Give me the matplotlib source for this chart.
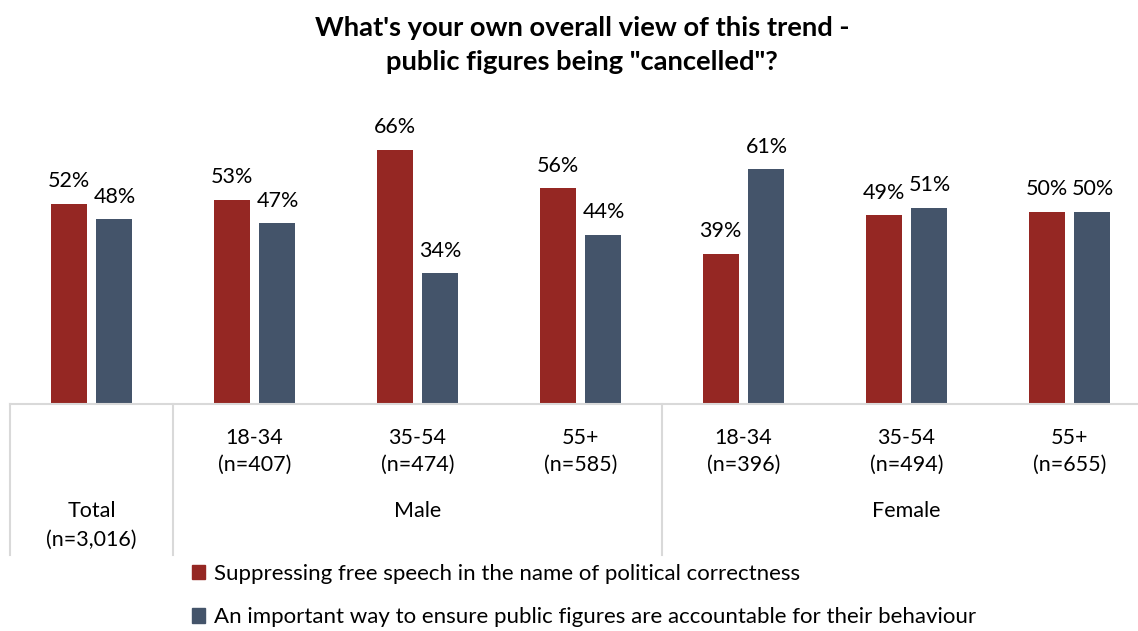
import matplotlib
matplotlib.use("Agg")
from matplotlib import pyplot as plt
from matplotlib.patches import Patch

plt.rcParams['font.family'] = ['Lato', 'DejaVu Sans']

# data
groups = ["Total", "Male", "Male", "Male", "Female", "Female", "Female"]
ages = ["", "18-34", "35-54", "55+", "18-34", "35-54", "55+"]
sizes = ["(n=3,016)", "(n=407)", "(n=474)", "(n=585)", "(n=396)", "(n=494)", "(n=655)"]
suppressing = [52, 53, 66, 56, 39, 49, 50]
accountable = [48, 47, 34, 44, 61, 51, 50]
series_names = ["Suppressing free speech in the name of political correctness",
                "An important way to ensure public figures are accountable for their behaviour"]
red = "#952723"
blue = "#44546a"
grid_c = "#d9d9d9"
fs = 15.5

W, H = 1138, 631
fig = plt.figure(figsize=(W / 100, H / 100), dpi=100)

# axes in pixel terms: left 10, baseline 404, top 100
ax_l, ax_b, ax_t = 10, 404, 100
ax = fig.add_axes([ax_l / W, 1 - ax_b / H, (W - ax_l) / W, (ax_b - ax_t) / H])
ax_h = ax_b - ax_t

def ay(py):
    # pixel row -> axes fraction
    return (ax_b - py) / ax_h

x = list(range(len(suppressing)))
off, bw = 0.141, 0.221
b1 = ax.bar([i - off for i in x], suppressing, bw, color=red, label=series_names[0])
b2 = ax.bar([i + off for i in x], accountable, bw, color=blue, label=series_names[1])

for bars, vals in ((b1, suppressing), (b2, accountable)):
    for r, v in zip(bars, vals):
        ax.annotate(f"{v}%", (r.get_x() + r.get_width() / 2, v), xytext=(0, 9),
                    textcoords="offset points", ha="center", va="bottom", fontsize=fs)

ax.set_xlim(-0.5, -0.5 + (W - ax_l) / 163)
ax.set_ylim(0, ax_h / 3.85)
for s in ax.spines.values():
    s.set_visible(False)
ax.set_xticks([])
ax.set_yticks([])

tr = ax.get_xaxis_transform()
ax.plot([-0.5, 7], [0, 0], color=grid_c, lw=1.5, transform=tr, clip_on=False)
for sx in (-0.5, 0.5, 3.5):
    ax.plot([sx, sx], [0, ay(555)], color=grid_c, lw=1.5, transform=tr, clip_on=False)

for i in x:
    if ages[i]:
        ax.text(i, ay(438), ages[i], transform=tr, ha="center", va="center", fontsize=fs)
        ax.text(i, ay(465), sizes[i], transform=tr, ha="center", va="center", fontsize=fs)
ax.text(0, ay(511), groups[0], transform=tr, ha="center", va="center", fontsize=fs)
ax.text(0, ay(540), sizes[0], transform=tr, ha="center", va="center", fontsize=fs)
ax.text(2, ay(511), "Male", transform=tr, ha="center", va="center", fontsize=fs)
ax.text(5, ay(511), "Female", transform=tr, ha="center", va="center", fontsize=fs)

fig.text(582 / W, 1 - 45 / H, "What's your own overall view of this trend -\npublic figures being \"cancelled\"?",
         ha="center", va="center", fontsize=19.7, fontweight="bold", linespacing=1.55)

handles = [Patch(color=red), Patch(color=blue)]
fig.legend(handles, series_names, loc="upper left", bbox_to_anchor=(192 / W, 1 - 564 / H),
           frameon=False, fontsize=16, handlelength=0.6, handleheight=0.6,
           handletextpad=0.4, labelspacing=1.05, borderpad=0, borderaxespad=0)

fig.savefig("out.png", dpi=100)
